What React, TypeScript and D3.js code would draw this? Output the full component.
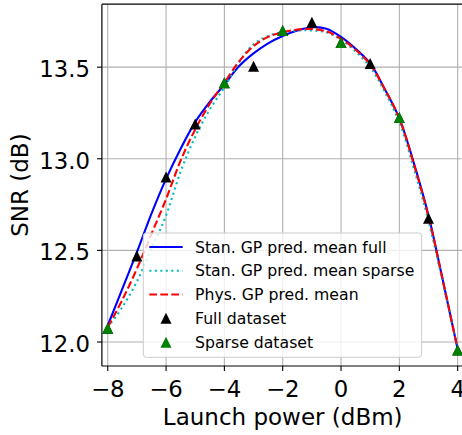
import React from "react";
import * as d3 from "d3";

const curveX = [-8, -7.5, -7, -6.5, -6, -5.5, -5, -4.5, -4, -3.5, -3, -2.5, -2, -1.5, -1, -0.5, 0, 0.5, 1, 1.5, 2, 2.5, 3, 3.5, 4];
const stanFull = [12.09, 12.29, 12.49, 12.7, 12.89, 13.055, 13.2, 13.31, 13.405, 13.505, 13.575, 13.63, 13.67, 13.7, 13.718, 13.71, 13.665, 13.6, 13.52, 13.38, 13.22, 12.975, 12.69, 12.33, 11.96];
const stanSparse = [12.08, 12.19, 12.33, 12.51, 12.69, 12.93, 13.12, 13.27, 13.39, 13.525, 13.625, 13.67, 13.692, 13.7, 13.7, 13.69, 13.65, 13.585, 13.5, 13.365, 13.2, 12.945, 12.66, 12.32, 11.96];
const physMean = [12.08, 12.23, 12.4, 12.59, 12.78, 12.99, 13.16, 13.3, 13.415, 13.53, 13.615, 13.665, 13.69, 13.705, 13.708, 13.695, 13.655, 13.595, 13.515, 13.38, 13.22, 12.97, 12.685, 12.33, 11.96];

const fullX = [-8, -7, -6, -5, -4, -3, -2, -1, 0, 1, 2, 3, 4];
const fullY = [12.075, 12.47, 12.9, 13.19, 13.415, 13.505, 13.7, 13.745, 13.635, 13.52, 13.225, 12.675, 11.956];
const sparseX = [-8, -4, -2, 0, 2, 4];
const sparseY = [12.075, 13.415, 13.7, 13.635, 13.225, 11.956];

const xTicks = [-8, -6, -4, -2, 0, 2, 4];
const yTicks = [12.0, 12.5, 13.0, 13.5];

const legendLabels = [
  "Stan. GP pred. mean full",
  "Stan. GP pred. mean sparse",
  "Phys. GP pred. mean",
  "Full dataset",
  "Sparse dataset",
];

const FONT = "'DejaVu Sans', sans-serif";

function tri(cx: number, cy: number, s: number) {
  const h = s / 2;
  return `M${cx},${cy - h}L${cx - h},${cy + h}L${cx + h},${cy + h}Z`;
}

export default function App() {
  const W = 462, H = 435;
  const left = 101.9, right = 463.5, top = 4.2, bottom = 366;
  const x = d3.scaleLinear().domain([-8.2, 4.2]).range([left, right]);
  const y = d3.scaleLinear().domain([11.869, 13.8435]).range([bottom, top]);

  const line = d3
    .line<number>()
    .x((_, i) => x(curveX[i]))
    .y((d) => y(d))
    .curve(d3.curveCatmullRom.alpha(0.5));

  const tickFs = 22.8;
  const legFs = 15.7;
  const mk = 11;

  const legX0 = 143.3, legY0 = 233, legX1 = 421.7, legY1 = 357.3;
  const rows = [247, 270.7, 294.5, 318.3, 342.2];
  const hx0 = 149.3, hx1 = 182.7, tx = 195;

  return (
    <svg width={W} height={H} style={{ position: "absolute", left: 0, top: 0, background: "white" }}>
      <defs>
        <clipPath id="plotclip">
          <rect x={left} y={top} width={right - left} height={bottom - top} />
        </clipPath>
      </defs>
      <rect x={0} y={0} width={W} height={H} fill="white" />
      {/* grid */}
      <g stroke="#b0b0b0" strokeWidth={1.1}>
        {xTicks.map((t) => (
          <line key={"gx" + t} x1={x(t)} x2={x(t)} y1={top} y2={bottom} />
        ))}
        {yTicks.map((t) => (
          <line key={"gy" + t} x1={left} x2={right} y1={y(t)} y2={y(t)} />
        ))}
      </g>
      <g clipPath="url(#plotclip)">
        <path d={line(stanFull) || ""} fill="none" stroke="#0000ff" strokeWidth={2.1} />
        <path d={line(stanSparse) || ""} fill="none" stroke="#00bfbf" strokeWidth={2.1} strokeDasharray="2.1,3.4" />
        <path d={line(physMean) || ""} fill="none" stroke="#ff0000" strokeWidth={2.1} strokeDasharray="7.7,3.3" />
        {fullX.map((v, i) => (
          <path key={"f" + i} d={tri(x(v), y(fullY[i]), mk)} fill="black" />
        ))}
        {sparseX.map((v, i) => (
          <path key={"s" + i} d={tri(x(v), y(sparseY[i]), mk)} fill="#008000" />
        ))}
      </g>
      {/* spines */}
      <g stroke="black" strokeWidth={1.2} fill="none">
        <line x1={left} x2={left} y1={top} y2={bottom} />
        <line x1={right} x2={right} y1={top} y2={bottom} />
        <line x1={left} x2={right} y1={top} y2={top} />
        <line x1={left} x2={right} y1={bottom} y2={bottom} />
      </g>
      {/* ticks */}
      <g stroke="black" strokeWidth={1.1}>
        {xTicks.map((t) => (
          <line key={"tx" + t} x1={x(t)} x2={x(t)} y1={bottom} y2={bottom + 4.9} />
        ))}
        {yTicks.map((t) => (
          <line key={"ty" + t} x1={left} x2={left - 4.9} y1={y(t)} y2={y(t)} />
        ))}
      </g>
      <g fontFamily={FONT} fontSize={tickFs} fill="black">
        {xTicks.map((t) => (
          <text key={"lx" + t} x={x(t)} y={396.7} textAnchor="middle">
            {t < 0 ? "\u2212" + Math.abs(t) : String(t)}
          </text>
        ))}
        {yTicks.map((t) => (
          <text key={"ly" + t} x={90} y={y(t) + 9.8} textAnchor="end">
            {d3.format(".1f")(t)}
          </text>
        ))}
        <text x={(left + right) / 2} y={425} textAnchor="middle" fontSize={23}>
          Launch power (dBm)
        </text>
        <text
          transform={`translate(28.3,${(top + bottom) / 2}) rotate(-90)`}
          textAnchor="middle"
          fontSize={23}
        >
          SNR (dB)
        </text>
      </g>
      {/* legend */}
      <g>
        <rect
          x={legX0}
          y={legY0}
          width={legX1 - legX0}
          height={legY1 - legY0}
          rx={3}
          fill="white"
          fillOpacity={0.8}
          stroke="#cccccc"
          strokeWidth={1}
        />
        <line x1={hx0} x2={hx1} y1={rows[0]} y2={rows[0]} stroke="#0000ff" strokeWidth={2.1} />
        <line x1={hx0} x2={hx1} y1={rows[1]} y2={rows[1]} stroke="#00bfbf" strokeWidth={2.1} strokeDasharray="2.1,3.4" />
        <line x1={hx0} x2={hx1} y1={rows[2]} y2={rows[2]} stroke="#ff0000" strokeWidth={2.1} strokeDasharray="7.7,3.3" />
        <path d={tri((hx0 + hx1) / 2, rows[3], mk)} fill="black" />
        <path d={tri((hx0 + hx1) / 2, rows[4], mk)} fill="#008000" />
        <g fontFamily={FONT} fontSize={legFs} fill="black">
          {legendLabels.map((l, i) => (
            <text key={l} x={tx} y={rows[i] + 5.5}>
              {l}
            </text>
          ))}
        </g>
      </g>
    </svg>
  );
}
